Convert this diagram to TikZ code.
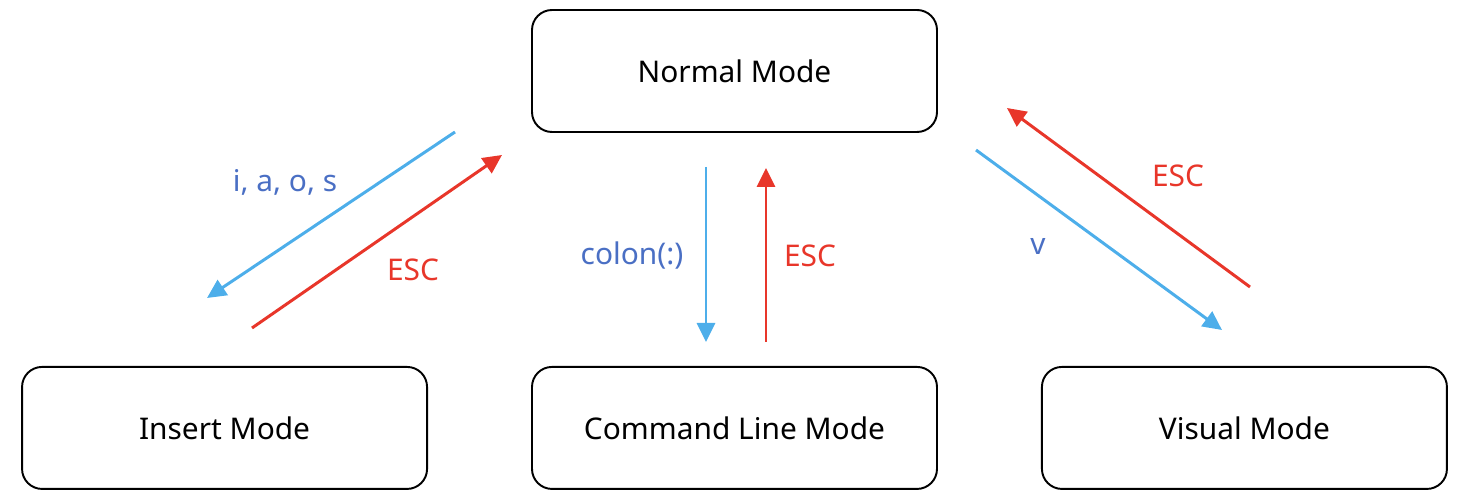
\documentclass[tikz,border=0pt]{standalone}
\usepackage{fontspec}
\setmainfont{Noto Sans}
\usepackage{xcolor}
\usepackage{tikz}
\usetikzlibrary{
	arrows.meta,
	positioning
}
\definecolor{arrowblue}{HTML}{4DAEEA}
\definecolor{labelblue}{HTML}{4A6FC4}
\definecolor{escred}{HTML}{E8362A}

\begin{document}
\begin{tikzpicture}[
	mode/.style={
		rectangle, draw, rounded corners=0.4cm, line width=1.1pt,
		minimum width=8.1cm, minimum height=2.44cm,
		align=center, font=\fontsize{17}{20}\selectfont
	},
	enter/.style={-{Triangle[length=0.38cm, width=0.36cm]}, line width=1.7pt, arrowblue},
	leave/.style={-{Triangle[length=0.38cm, width=0.36cm]}, line width=1.7pt, escred},
	keylabel/.style={font=\fontsize{17}{20}\selectfont, text=labelblue},
	esclabel/.style={font=\fontsize{17}{20}\selectfont, text=escred}
	]
	
	\useasboundingbox (0,0) rectangle (29.4,-9.88);
	
	% Normal
	\node[mode] (normal) at (14.69,-1.42) {Normal Mode};
	
	% command line
	\node[mode, below=4.66cm of normal] (cmdline) {Command Line Mode};
	
	% insert
	\node[mode, left=2.06cm of cmdline] (insert) {Insert Mode};
	
	% visual
	\node[mode, right=2.06cm of cmdline] (visual) {Visual Mode};
	
	% free arrow ends
	\coordinate (insIn)   at (9.10,-2.64);
	\coordinate (insOut)  at (4.14,-5.96);
	\coordinate (insEsc)  at (5.04,-6.56);
	\coordinate (insBack) at (10.04,-3.10);
	\coordinate (cmdIn)   at (14.12,-3.34);
	\coordinate (cmdOut)  at (14.12,-6.84);
	\coordinate (cmdEsc)  at (15.32,-6.84);
	\coordinate (cmdBack) at (15.32,-3.36);
	\coordinate (visIn)   at (19.52,-3.00);
	\coordinate (visOut)  at (24.44,-6.60);
	\coordinate (visEsc)  at (25.00,-5.74);
	\coordinate (visBack) at (20.14,-2.16);
	
	% arrows
	\draw[enter] (insIn)  -- (insOut);
	\draw[leave] (insEsc) -- (insBack);
	\draw[enter] (cmdIn)  -- (cmdOut);
	\draw[leave] (cmdEsc) -- (cmdBack);
	\draw[enter] (visIn)  -- (visOut);
	\draw[leave] (visEsc) -- (visBack);
	
	% labels
	\node[keylabel] (insKey) at (5.70,-3.64) {i, a, o, s};
	\node[esclabel] (insEscLbl) at (8.26,-5.40) {ESC};
	\node[keylabel] (cmdKey) at (12.64,-5.12) {colon(:)};
	\node[esclabel] (cmdEscLbl) at (16.20,-5.12) {ESC};
	\node[keylabel] (visKey) at (20.76,-4.92) {v};
	\node[esclabel] (visEscLbl) at (23.56,-3.52) {ESC};
\end{tikzpicture}
\end{document}
